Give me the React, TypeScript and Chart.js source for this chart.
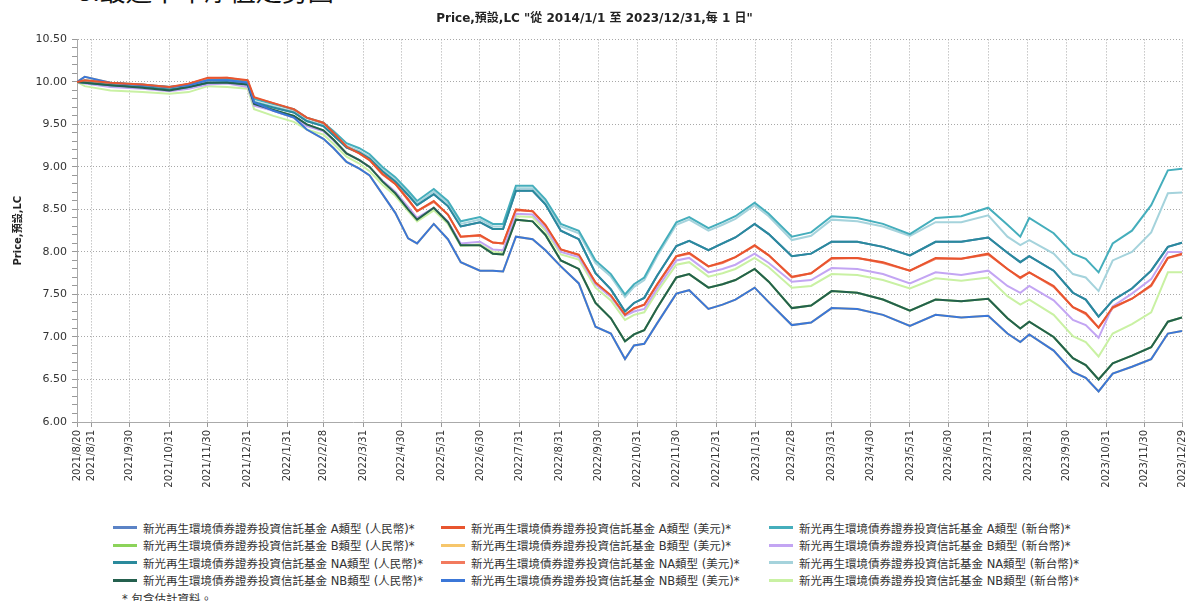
import React, { useEffect, useRef } from 'react';
import { Chart, registerables } from 'chart.js';

Chart.register(...registerables);

const chartTitle = 'Price,預設,LC "從 2014/1/1 至 2023/12/31,每 1 日"';
const yAxisTitle = 'Price,預設,LC';
const heading = '3.最近十年淨值走勢圖';
const footNote = '*  包含估計資料。';

const dates = [
  '2021/8/20', '2021/8/26', '2021/9/15', '2021/10/10', '2021/10/31', '2021/11/15', '2021/11/30', '2021/12/15', '2021/12/31',
  '2022/1/5', '2022/1/20', '2022/2/5', '2022/2/15', '2022/2/28', '2022/3/8', '2022/3/18', '2022/3/28', '2022/4/5',
  '2022/4/15', '2022/4/25', '2022/5/5', '2022/5/12', '2022/5/25', '2022/6/5', '2022/6/15', '2022/6/30', '2022/7/10',
  '2022/7/18', '2022/7/28', '2022/8/10', '2022/8/20', '2022/9/1', '2022/9/15', '2022/9/28', '2022/10/10', '2022/10/21',
  '2022/10/28', '2022/11/5', '2022/11/15', '2022/11/30', '2022/12/10', '2022/12/25', '2023/1/5', '2023/1/15', '2023/1/30',
  '2023/2/10', '2023/2/28', '2023/3/15', '2023/3/31', '2023/4/20', '2023/5/10', '2023/5/31', '2023/6/20', '2023/7/10',
  '2023/7/31', '2023/8/15', '2023/8/25', '2023/9/1', '2023/9/20', '2023/10/5', '2023/10/15', '2023/10/25', '2023/11/5',
  '2023/11/20', '2023/12/5', '2023/12/18', '2023/12/29',
];

const tickLabels = [
  '2021/8/20', '2021/8/31', '2021/9/30', '2021/10/31', '2021/11/30', '2021/12/31',
  '2022/1/31', '2022/2/28', '2022/3/31', '2022/4/30', '2022/5/31', '2022/6/30',
  '2022/7/31', '2022/8/31', '2022/9/30', '2022/10/31', '2022/11/30', '2022/12/31',
  '2023/1/31', '2023/2/28', '2023/3/31', '2023/4/30', '2023/5/31', '2023/6/30',
  '2023/7/31', '2023/8/31', '2023/9/30', '2023/10/31', '2023/11/30', '2023/12/29',
];

const yTickValues = [6.0, 6.5, 7.0, 7.5, 8.0, 8.5, 9.0, 9.5, 10.0, 10.5];

const seriesNames = [
  '新光再生環境債券證券投資信託基金 A類型 (人民幣)*',
  '新光再生環境債券證券投資信託基金 A類型 (美元)*',
  '新光再生環境債券證券投資信託基金 A類型 (新台幣)*',
  '新光再生環境債券證券投資信託基金 B類型 (人民幣)*',
  '新光再生環境債券證券投資信託基金 B類型 (美元)*',
  '新光再生環境債券證券投資信託基金 B類型 (新台幣)*',
  '新光再生環境債券證券投資信託基金 NA類型 (人民幣)*',
  '新光再生環境債券證券投資信託基金 NA類型 (美元)*',
  '新光再生環境債券證券投資信託基金 NA類型 (新台幣)*',
  '新光再生環境債券證券投資信託基金 NB類型 (人民幣)*',
  '新光再生環境債券證券投資信託基金 NB類型 (美元)*',
  '新光再生環境債券證券投資信託基金 NB類型 (新台幣)*',
];

const seriesColors = [
  '#5b83c6', '#e8552f', '#45aebc',
  '#8cd35a', '#f6c66b', '#c3a5f3',
  '#2a8a9c', '#f27a5e', '#a5d3dc',
  '#24604e', '#3b77d8', '#c9f1a3',
];

// draw order: lower = drawn later (on top)
const seriesOrder = [11, 0, 4, 10, 9, 6, 3, 8, 5, 2, 1, 7];

const aRmb = [
  10.00, 9.99, 9.96, 9.94, 9.91, 9.94, 9.99, 10.00, 9.97, 9.76, 9.70, 9.64, 9.54, 9.48, 9.37, 9.23, 9.17, 9.10,
  8.95, 8.83, 8.67, 8.55, 8.68, 8.54, 8.30, 8.35, 8.27, 8.27, 8.72, 8.72, 8.56, 8.25, 8.15, 7.75, 7.56, 7.30,
  7.40, 7.46, 7.72, 8.07, 8.13, 8.02, 8.10, 8.17, 8.33, 8.21, 7.95, 7.98, 8.12, 8.12, 8.06, 7.96, 8.12, 8.12,
  8.17, 7.99, 7.88, 7.95, 7.78, 7.52, 7.44, 7.24, 7.43, 7.57, 7.78, 8.06, 8.11,
];
const aUsd = [
  10.00, 10.02, 9.99, 9.97, 9.94, 9.98, 10.05, 10.05, 10.02, 9.82, 9.75, 9.68, 9.58, 9.52, 9.40, 9.24, 9.16, 9.08,
  8.92, 8.80, 8.62, 8.48, 8.60, 8.44, 8.18, 8.20, 8.11, 8.10, 8.50, 8.48, 8.32, 8.03, 7.97, 7.64, 7.49, 7.26,
  7.34, 7.38, 7.62, 7.95, 7.99, 7.83, 7.88, 7.94, 8.08, 7.96, 7.71, 7.75, 7.93, 7.93, 7.88, 7.78, 7.93, 7.92,
  7.98, 7.80, 7.70, 7.76, 7.60, 7.35, 7.28, 7.11, 7.35, 7.45, 7.61, 7.93, 7.98,
];
const aTwd = [
  10.00, 10.02, 9.99, 9.97, 9.94, 9.97, 10.02, 10.03, 10.00, 9.80, 9.74, 9.68, 9.58, 9.52, 9.42, 9.28, 9.22, 9.15,
  9.00, 8.88, 8.72, 8.60, 8.74, 8.60, 8.36, 8.41, 8.33, 8.33, 8.78, 8.78, 8.62, 8.33, 8.25, 7.90, 7.74, 7.50,
  7.62, 7.70, 7.98, 8.35, 8.41, 8.28, 8.35, 8.42, 8.58, 8.45, 8.18, 8.23, 8.42, 8.40, 8.33, 8.21, 8.40, 8.42,
  8.52, 8.32, 8.18, 8.40, 8.22, 7.98, 7.92, 7.76, 8.10, 8.25, 8.55, 8.96, 8.98,
];
const bRmb = [
  10.00, 9.99, 9.96, 9.93, 9.90, 9.94, 9.99, 9.99, 9.97, 9.74, 9.67, 9.60, 9.50, 9.43, 9.32, 9.16, 9.08, 9.00,
  8.83, 8.69, 8.50, 8.38, 8.52, 8.35, 8.08, 8.08, 7.98, 7.97, 8.38, 8.36, 8.20, 7.90, 7.80, 7.40, 7.22, 6.95,
  7.03, 7.08, 7.34, 7.70, 7.74, 7.58, 7.62, 7.67, 7.80, 7.65, 7.34, 7.37, 7.54, 7.52, 7.44, 7.31, 7.44, 7.42,
  7.45, 7.22, 7.10, 7.18, 7.00, 6.75, 6.67, 6.50, 6.69, 6.78, 6.88, 7.18, 7.23,
];
const bUsd = [
  10.00, 10.06, 9.99, 9.96, 9.94, 9.96, 10.02, 10.02, 9.99, 9.76, 9.66, 9.58, 9.44, 9.33, 9.22, 9.06, 8.98, 8.90,
  8.68, 8.46, 8.16, 8.10, 8.33, 8.15, 7.88, 7.78, 7.78, 7.77, 8.18, 8.15, 8.02, 7.83, 7.63, 7.12, 7.04, 6.74,
  6.90, 6.92, 7.16, 7.51, 7.55, 7.33, 7.38, 7.44, 7.58, 7.41, 7.14, 7.17, 7.34, 7.33, 7.26, 7.13, 7.26, 7.23,
  7.25, 7.04, 6.94, 7.03, 6.84, 6.59, 6.52, 6.36, 6.57, 6.65, 6.74, 7.04, 7.07,
];
const bTwd = [
  10.00, 9.98, 9.94, 9.92, 9.89, 9.92, 9.97, 9.98, 9.94, 9.72, 9.66, 9.58, 9.48, 9.42, 9.31, 9.16, 9.08, 9.00,
  8.84, 8.71, 8.53, 8.40, 8.52, 8.36, 8.10, 8.12, 8.03, 8.02, 8.45, 8.44, 8.28, 8.00, 7.94, 7.62, 7.47, 7.25,
  7.30, 7.33, 7.57, 7.90, 7.93, 7.76, 7.80, 7.85, 7.98, 7.87, 7.65, 7.67, 7.81, 7.80, 7.74, 7.63, 7.76, 7.73,
  7.78, 7.60, 7.52, 7.60, 7.43, 7.20, 7.14, 6.99, 7.36, 7.51, 7.68, 8.00, 8.00,
];
const naRmb = [
  10.00, 9.99, 9.96, 9.94, 9.91, 9.94, 9.99, 10.00, 9.97, 9.76, 9.70, 9.64, 9.54, 9.48, 9.37, 9.23, 9.17, 9.10,
  8.95, 8.83, 8.67, 8.55, 8.68, 8.54, 8.30, 8.35, 8.27, 8.27, 8.72, 8.72, 8.56, 8.25, 8.15, 7.75, 7.56, 7.30,
  7.40, 7.46, 7.72, 8.07, 8.13, 8.02, 8.10, 8.17, 8.33, 8.21, 7.95, 7.98, 8.12, 8.12, 8.06, 7.96, 8.12, 8.12,
  8.17, 7.99, 7.88, 7.95, 7.78, 7.52, 7.44, 7.24, 7.43, 7.57, 7.78, 8.06, 8.11,
];
const naUsd = [
  10.00, 10.01, 9.98, 9.97, 9.93, 9.98, 10.04, 10.05, 10.01, 9.81, 9.75, 9.67, 9.58, 9.51, 9.40, 9.23, 9.16, 9.08,
  8.91, 8.80, 8.61, 8.48, 8.59, 8.44, 8.18, 8.19, 8.11, 8.10, 8.49, 8.48, 8.31, 8.03, 7.96, 7.64, 7.48, 7.26,
  7.33, 7.38, 7.61, 7.95, 7.98, 7.83, 7.87, 7.94, 8.07, 7.96, 7.70, 7.75, 7.92, 7.93, 7.87, 7.78, 7.92, 7.92,
  7.97, 7.80, 7.69, 7.76, 7.59, 7.35, 7.27, 7.11, 7.34, 7.45, 7.60, 7.93, 7.97,
];
const naTwd = [
  10.00, 9.99, 9.96, 9.94, 9.91, 9.94, 9.99, 10.00, 9.97, 9.77, 9.71, 9.65, 9.55, 9.49, 9.39, 9.25, 9.19, 9.12,
  8.97, 8.85, 8.69, 8.57, 8.71, 8.57, 8.33, 8.38, 8.30, 8.30, 8.75, 8.75, 8.59, 8.30, 8.22, 7.87, 7.71, 7.47,
  7.59, 7.67, 7.95, 8.32, 8.38, 8.25, 8.32, 8.39, 8.55, 8.42, 8.14, 8.19, 8.38, 8.36, 8.30, 8.19, 8.35, 8.35,
  8.43, 8.18, 8.08, 8.14, 7.98, 7.74, 7.70, 7.54, 7.90, 8.00, 8.23, 8.69, 8.70,
];
const nbRmb = [
  10.00, 9.99, 9.96, 9.93, 9.90, 9.94, 9.99, 9.99, 9.97, 9.74, 9.67, 9.60, 9.50, 9.43, 9.32, 9.16, 9.08, 9.00,
  8.83, 8.69, 8.50, 8.38, 8.52, 8.35, 8.08, 8.08, 7.98, 7.97, 8.38, 8.36, 8.20, 7.90, 7.80, 7.40, 7.22, 6.95,
  7.03, 7.08, 7.34, 7.70, 7.74, 7.58, 7.62, 7.67, 7.80, 7.65, 7.34, 7.37, 7.54, 7.52, 7.44, 7.31, 7.44, 7.42,
  7.45, 7.22, 7.10, 7.18, 7.00, 6.75, 6.67, 6.50, 6.69, 6.78, 6.88, 7.18, 7.23,
];
const nbUsd = [
  10.00, 10.06, 9.99, 9.96, 9.94, 9.96, 10.02, 10.02, 9.99, 9.76, 9.66, 9.58, 9.44, 9.33, 9.22, 9.06, 8.98, 8.90,
  8.68, 8.46, 8.16, 8.10, 8.33, 8.15, 7.88, 7.78, 7.78, 7.77, 8.18, 8.15, 8.02, 7.83, 7.63, 7.12, 7.04, 6.74,
  6.90, 6.92, 7.16, 7.51, 7.55, 7.33, 7.38, 7.44, 7.58, 7.41, 7.14, 7.17, 7.34, 7.33, 7.26, 7.13, 7.26, 7.23,
  7.25, 7.04, 6.94, 7.03, 6.84, 6.59, 6.52, 6.36, 6.57, 6.65, 6.74, 7.04, 7.07,
];
const nbTwd = [
  10.00, 9.95, 9.90, 9.88, 9.86, 9.88, 9.95, 9.94, 9.92, 9.68, 9.60, 9.53, 9.44, 9.38, 9.27, 9.12, 9.04, 8.95,
  8.79, 8.66, 8.48, 8.36, 8.49, 8.33, 8.07, 8.09, 8.00, 7.99, 8.42, 8.41, 8.25, 7.97, 7.91, 7.58, 7.43, 7.20,
  7.26, 7.29, 7.53, 7.85, 7.88, 7.71, 7.75, 7.80, 7.93, 7.82, 7.58, 7.60, 7.74, 7.73, 7.67, 7.57, 7.69, 7.66,
  7.70, 7.48, 7.38, 7.44, 7.26, 7.01, 6.94, 6.77, 7.04, 7.15, 7.29, 7.76, 7.76,
];

const seriesValues = [aRmb, aUsd, aTwd, bRmb, bUsd, bTwd, naRmb, naUsd, naTwd, nbRmb, nbUsd, nbTwd];

const FONT = '"DejaVu Sans", "Noto Sans CJK TC", sans-serif';

function dayOffset(s: string): number {
  const [y, m, d] = s.split('/').map(Number);
  return Math.round((Date.UTC(y, m - 1, d) - Date.UTC(2021, 7, 20)) / 86400000);
}

const CANVAS_W = 1197;
const CANVAS_H = 515;

export default function App() {
  const canvasRef = useRef<HTMLCanvasElement | null>(null);

  useEffect(() => {
    const canvas = canvasRef.current;
    if (!canvas) return;
    const xs = dates.map(dayOffset);
    const tickDays = tickLabels.map(dayOffset);
    const labelByDay: Record<number, string> = {};
    tickLabels.forEach((l, i) => { labelByDay[tickDays[i]] = l; });

    const datasets = seriesValues.map((vals, i) => ({
      label: seriesNames[i],
      data: vals.map((v, j) => ({ x: xs[j], y: v })),
      borderColor: seriesColors[i],
      backgroundColor: seriesColors[i],
      borderWidth: 2,
      pointRadius: 0,
      tension: 0,
      fill: false,
      order: seriesOrder[i],
    }));

    const isMajor = (v: number) => Math.round(v * 100) % 50 === 0;

    const chart = new Chart(canvas, {
      type: 'line',
      data: { datasets },
      options: {
        animation: false,
        responsive: false,
        devicePixelRatio: 1,
        layout: { padding: { left: 0, right: 8, top: 0, bottom: 0 } },
        plugins: {
          legend: { display: false },
          tooltip: { enabled: false },
          title: {
            display: true,
            text: chartTitle,
            color: '#222',
            font: { family: FONT, size: 12, weight: 'bold' },
            padding: { top: 12, bottom: 13 },
          },
        },
        scales: {
          x: {
            type: 'linear',
            min: 0,
            max: dayOffset(tickLabels[tickLabels.length - 1]),
            afterBuildTicks: (scale: any) => {
              scale.ticks = tickDays.map((v) => ({ value: v }));
            },
            afterFit: (scale: any) => { scale.height = CANVAS_H - 422; },
            ticks: {
              autoSkip: false,
              minRotation: 90,
              maxRotation: 90,
              padding: 3,
              color: '#333',
              font: { family: FONT, size: 10 },
              callback: (v: any) => labelByDay[Math.round(Number(v))] ?? '',
            },
            grid: { color: '#a8a8a8', tickColor: '#999', tickLength: 5, lineWidth: 1 },
            border: { color: '#aaa', dash: [1, 2] },
          },
          y: {
            type: 'linear',
            min: 6,
            max: 10.5,
            afterBuildTicks: (scale: any) => {
              const t: { value: number }[] = [];
              for (let k = 60; k <= 105; k++) t.push({ value: k / 10 });
              scale.ticks = t;
            },
            afterFit: (scale: any) => { scale.width = 77; },
            ticks: {
              autoSkip: false,
              padding: 5,
              color: '#333',
              font: { family: FONT, size: 11 },
              callback: (v: any) => {
                const n = Number(v);
                const hit = yTickValues.find((t) => Math.abs(t - n) < 1e-6);
                return hit !== undefined ? hit.toFixed(2) : '';
              },
            },
            grid: {
              color: (ctx: any) => (ctx.tick && isMajor(ctx.tick.value) ? '#a8a8a8' : 'rgba(0,0,0,0)'),
              tickColor: '#999',
              tickLength: 5,
            },
            border: { color: '#aaa', dash: [1, 2] },
            title: {
              display: true,
              text: yAxisTitle,
              color: '#222',
              font: { family: FONT, size: 10, weight: 'bold' },
              padding: { top: 12, bottom: 0 },
            },
          },
        },
      },
    });
    return () => chart.destroy();
  }, []);

  const rowH = 17.5;
  return (
    <div style={{ position: 'fixed', left: 0, top: 0, width: 1197, height: 601, background: '#fff', overflow: 'hidden' }}>
      <div style={{ position: 'absolute', left: 78, top: 0, height: 8, width: 400, overflow: 'hidden' }}>
        <div style={{ position: 'absolute', left: 0, top: -24, fontFamily: '"Noto Sans CJK TC", serif', fontSize: 26, lineHeight: '28px', color: '#111', whiteSpace: 'nowrap' }}>
          {heading}
        </div>
      </div>
      <canvas
        ref={canvasRef}
        width={CANVAS_W}
        height={CANVAS_H}
        style={{ position: 'absolute', left: 0, top: 0, width: CANVAS_W, height: CANVAS_H, display: 'block' }}
      />
      <div style={{ position: 'absolute', left: 113, top: 519, fontFamily: FONT, fontSize: 11.5, color: '#333' }}>
        {seriesNames.map((name, i) => {
          const col = i % 3;
          const row = Math.floor(i / 3);
          return (
            <div
              key={name}
              style={{ position: 'absolute', left: col * 328, top: row * rowH, height: rowH, display: 'flex', alignItems: 'center', whiteSpace: 'nowrap' }}
            >
              <span style={{ display: 'inline-block', width: 24, height: 3, background: seriesColors[i], marginRight: 6 }} />
              <span>{name}</span>
            </div>
          );
        })}
        <div style={{ position: 'absolute', left: 9, top: 4 * rowH, height: rowH, display: 'flex', alignItems: 'center', whiteSpace: 'nowrap' }}>
          {footNote}
        </div>
      </div>
    </div>
  );
}
